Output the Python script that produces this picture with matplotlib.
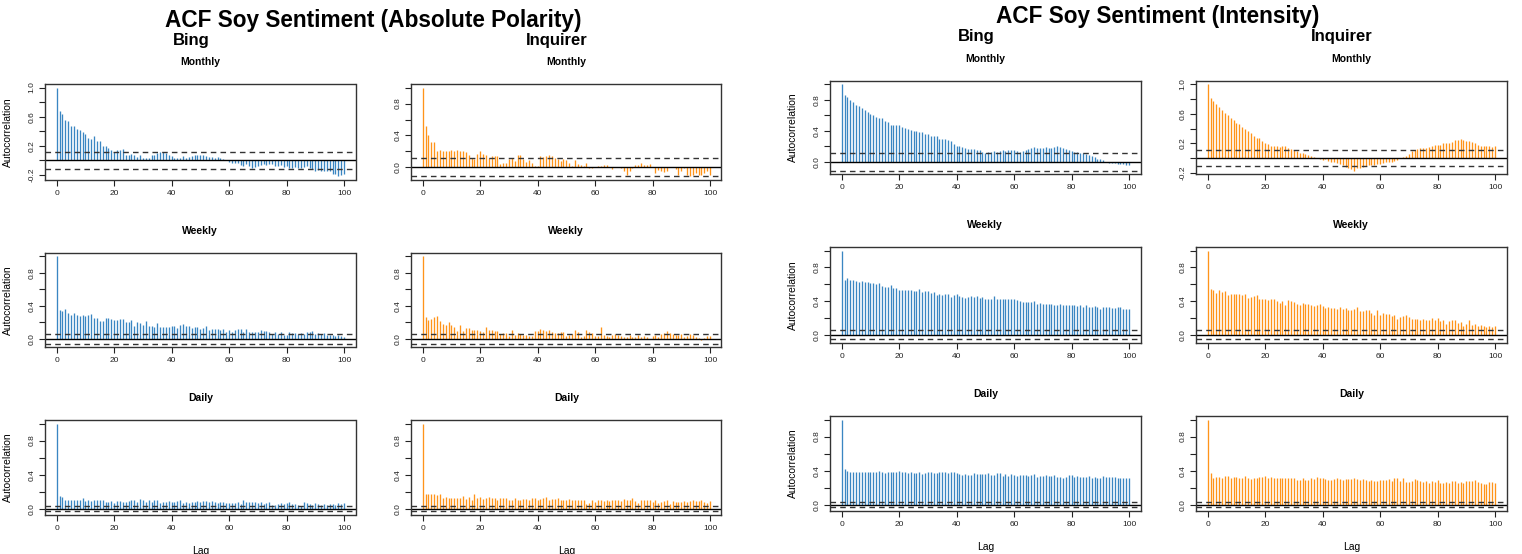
import numpy as np
import matplotlib
matplotlib.use('Agg')
import matplotlib.pyplot as plt

plt.rcParams['font.family'] = ['Liberation Sans', 'DejaVu Sans']

lags = np.arange(0, 101)

# ---- Absolute polarity ----
abs_bing_monthly = [1.00,
    0.68, 0.64, 0.55, 0.54, 0.47, 0.47, 0.43, 0.42, 0.39, 0.36,
    0.31, 0.30, 0.33, 0.27, 0.26, 0.20, 0.20, 0.17, 0.14, 0.11,
    0.14, 0.14, 0.16, 0.08, 0.08, 0.09, 0.08, 0.05, 0.08, 0.04,
    0.04, 0.04, 0.08, 0.08, 0.10, 0.11, 0.11, 0.10, 0.08, 0.06,
    0.04, 0.04, 0.04, 0.06, 0.04, 0.05, 0.06, 0.07, 0.08, 0.08,
    0.07, 0.06, 0.05, 0.05, 0.04, 0.05, 0.03, 0.02, 0.00, -0.02,
    -0.03, -0.04, -0.04, -0.06, -0.07, -0.05, -0.08, -0.10, -0.09, -0.08,
    -0.06, -0.05, -0.06, -0.05, -0.05, -0.07, -0.07, -0.06, -0.09, -0.08,
    -0.10, -0.10, -0.09, -0.10, -0.10, -0.09, -0.07, -0.10, -0.12, -0.14,
    -0.13, -0.15, -0.15, -0.15, -0.15, -0.18, -0.19, -0.22, -0.20, -0.18]
abs_inq_monthly = [1.00,
    0.52, 0.41, 0.32, 0.32, 0.21, 0.22, 0.21, 0.21, 0.20, 0.22,
    0.21, 0.22, 0.20, 0.20, 0.19, 0.16, 0.12, 0.10, 0.17, 0.21,
    0.17, 0.15, 0.12, 0.14, 0.14, 0.14, 0.04, 0.06, 0.06, 0.10,
    0.12, 0.08, 0.15, 0.15, 0.11, 0.07, 0.09, 0.05, 0.02, 0.02,
    0.14, 0.13, 0.14, 0.15, 0.14, 0.12, 0.10, 0.08, 0.11, 0.09,
    0.05, 0.02, 0.09, 0.04, 0.03, 0.02, 0.06, -0.01, -0.01, 0.01,
    0.02, 0.02, 0.03, 0.03, 0.00, -0.02, 0.00, 0.00, -0.01, -0.05,
    -0.09, -0.04, -0.01, 0.03, 0.03, 0.06, 0.03, 0.03, 0.04, 0.01,
    -0.07, -0.03, -0.04, -0.06, -0.05, 0.01, 0.00, -0.02, -0.09, -0.05,
    -0.01, -0.09, -0.11, -0.09, -0.07, -0.10, -0.09, -0.07, -0.05, -0.09]
abs_bing_weekly = [1.00,
    0.35, 0.34, 0.36, 0.31, 0.29, 0.32, 0.29, 0.28, 0.29, 0.28,
    0.29, 0.30, 0.26, 0.25, 0.22, 0.22, 0.26, 0.26, 0.24, 0.23,
    0.23, 0.24, 0.24, 0.21, 0.20, 0.23, 0.16, 0.21, 0.19, 0.17,
    0.22, 0.16, 0.16, 0.14, 0.19, 0.15, 0.14, 0.14, 0.15, 0.16,
    0.16, 0.13, 0.17, 0.18, 0.16, 0.16, 0.13, 0.14, 0.14, 0.12,
    0.13, 0.16, 0.11, 0.12, 0.12, 0.12, 0.11, 0.12, 0.09, 0.11,
    0.09, 0.11, 0.12, 0.12, 0.09, 0.12, 0.08, 0.09, 0.09, 0.08,
    0.11, 0.10, 0.10, 0.08, 0.06, 0.09, 0.06, 0.08, 0.05, 0.05,
    0.09, 0.07, 0.07, 0.06, 0.07, 0.06, 0.09, 0.08, 0.10, 0.06,
    0.07, 0.06, 0.07, 0.05, 0.05, 0.05, 0.04, 0.05, 0.04, 0.03]
abs_inq_weekly = [1.00,
    0.27, 0.23, 0.24, 0.27, 0.28, 0.22, 0.18, 0.17, 0.21, 0.17,
    0.15, 0.10, 0.17, 0.10, 0.13, 0.13, 0.11, 0.11, 0.11, 0.10,
    0.08, 0.14, 0.11, 0.11, 0.10, 0.10, 0.06, 0.07, 0.07, 0.04,
    0.11, 0.05, 0.07, 0.06, 0.05, 0.05, 0.04, 0.04, 0.10, 0.10,
    0.12, 0.11, 0.10, 0.11, 0.08, 0.07, 0.07, 0.09, 0.08, 0.04,
    0.05, 0.06, 0.11, 0.08, 0.03, 0.04, 0.11, 0.09, 0.07, 0.04,
    0.04, 0.14, 0.05, 0.04, 0.03, 0.05, 0.06, 0.05, 0.04, 0.02,
    0.03, 0.05, 0.03, 0.02, 0.05, 0.02, 0.04, 0.03, 0.00, 0.04,
    0.05, 0.03, 0.06, 0.07, 0.10, 0.07, 0.06, 0.05, 0.05, 0.06,
    0.03, 0.04, 0.06, 0.05, 0.02, 0.01, -0.01, 0.01, 0.04, 0.04]
abs_bing_daily = [1.00,
    0.15, 0.14, 0.11, 0.11, 0.11, 0.11, 0.10, 0.11, 0.13, 0.09,
    0.10, 0.09, 0.10, 0.11, 0.10, 0.10, 0.08, 0.08, 0.09, 0.07,
    0.09, 0.09, 0.08, 0.08, 0.09, 0.10, 0.10, 0.08, 0.12, 0.11,
    0.08, 0.10, 0.08, 0.10, 0.10, 0.07, 0.08, 0.08, 0.09, 0.08,
    0.08, 0.09, 0.11, 0.07, 0.08, 0.07, 0.08, 0.08, 0.09, 0.08,
    0.09, 0.09, 0.08, 0.09, 0.08, 0.07, 0.08, 0.08, 0.07, 0.07,
    0.07, 0.07, 0.08, 0.06, 0.10, 0.08, 0.08, 0.08, 0.08, 0.07,
    0.08, 0.06, 0.07, 0.08, 0.05, 0.05, 0.06, 0.07, 0.06, 0.07,
    0.08, 0.06, 0.06, 0.05, 0.04, 0.08, 0.07, 0.06, 0.05, 0.07,
    0.06, 0.05, 0.06, 0.05, 0.06, 0.06, 0.05, 0.07, 0.06, 0.07]
abs_inq_daily = [1.00,
    0.17, 0.17, 0.17, 0.18, 0.16, 0.17, 0.13, 0.14, 0.13, 0.13,
    0.13, 0.13, 0.13, 0.15, 0.12, 0.14, 0.11, 0.17, 0.13, 0.14,
    0.12, 0.13, 0.14, 0.13, 0.13, 0.11, 0.13, 0.13, 0.13, 0.11,
    0.11, 0.13, 0.11, 0.11, 0.12, 0.12, 0.11, 0.13, 0.13, 0.10,
    0.12, 0.13, 0.14, 0.10, 0.12, 0.12, 0.13, 0.10, 0.10, 0.11,
    0.12, 0.11, 0.10, 0.10, 0.10, 0.10, 0.06, 0.07, 0.11, 0.08,
    0.11, 0.10, 0.09, 0.11, 0.09, 0.10, 0.11, 0.10, 0.09, 0.12,
    0.10, 0.10, 0.13, 0.09, 0.07, 0.10, 0.11, 0.10, 0.10, 0.08,
    0.10, 0.07, 0.08, 0.09, 0.10, 0.06, 0.09, 0.08, 0.08, 0.08,
    0.09, 0.08, 0.09, 0.10, 0.09, 0.09, 0.10, 0.08, 0.07, 0.09]

# ---- Intensity ----
int_bing_monthly = [1.00,
    0.87, 0.84, 0.80, 0.77, 0.74, 0.72, 0.69, 0.67, 0.65, 0.62,
    0.60, 0.58, 0.56, 0.56, 0.53, 0.51, 0.48, 0.47, 0.47, 0.47,
    0.45, 0.44, 0.43, 0.41, 0.40, 0.40, 0.39, 0.38, 0.36, 0.36,
    0.34, 0.34, 0.33, 0.30, 0.30, 0.29, 0.28, 0.27, 0.23, 0.21,
    0.20, 0.19, 0.18, 0.17, 0.16, 0.16, 0.15, 0.15, 0.13, 0.12,
    0.13, 0.13, 0.14, 0.13, 0.14, 0.15, 0.14, 0.15, 0.15, 0.15,
    0.14, 0.13, 0.14, 0.15, 0.16, 0.18, 0.19, 0.18, 0.18, 0.18,
    0.19, 0.18, 0.18, 0.19, 0.20, 0.19, 0.18, 0.16, 0.15, 0.14,
    0.13, 0.13, 0.12, 0.12, 0.10, 0.09, 0.07, 0.06, 0.04, 0.03,
    0.02, 0.00, -0.01, -0.02, -0.02, -0.03, -0.03, -0.03, -0.04, -0.04]
int_inq_monthly = [1.00,
    0.82, 0.77, 0.74, 0.70, 0.65, 0.61, 0.58, 0.55, 0.52, 0.47,
    0.46, 0.42, 0.40, 0.37, 0.34, 0.30, 0.27, 0.27, 0.23, 0.21,
    0.19, 0.17, 0.16, 0.16, 0.15, 0.16, 0.16, 0.14, 0.12, 0.11,
    0.09, 0.07, 0.07, 0.05, 0.04, 0.03, 0.02, 0.00, -0.01, -0.02,
    -0.01, -0.04, -0.05, -0.06, -0.07, -0.08, -0.10, -0.12, -0.13, -0.15,
    -0.17, -0.14, -0.13, -0.12, -0.11, -0.10, -0.09, -0.09, -0.08, -0.08,
    -0.07, -0.06, -0.05, -0.05, -0.04, -0.03, 0.00, 0.01, 0.03, 0.06,
    0.10, 0.11, 0.12, 0.14, 0.14, 0.14, 0.15, 0.16, 0.18, 0.18,
    0.18, 0.20, 0.20, 0.20, 0.22, 0.24, 0.24, 0.26, 0.25, 0.23,
    0.23, 0.22, 0.20, 0.18, 0.17, 0.17, 0.16, 0.16, 0.15, 0.16]
int_bing_weekly = [1.00,
    0.65, 0.67, 0.65, 0.65, 0.64, 0.63, 0.64, 0.63, 0.63, 0.61,
    0.61, 0.60, 0.61, 0.58, 0.57, 0.57, 0.59, 0.55, 0.55, 0.53,
    0.53, 0.53, 0.53, 0.53, 0.52, 0.52, 0.54, 0.51, 0.52, 0.52,
    0.50, 0.51, 0.47, 0.48, 0.47, 0.48, 0.48, 0.45, 0.47, 0.48,
    0.46, 0.45, 0.44, 0.45, 0.46, 0.45, 0.46, 0.44, 0.45, 0.43,
    0.42, 0.43, 0.46, 0.43, 0.42, 0.42, 0.43, 0.42, 0.42, 0.42,
    0.41, 0.40, 0.39, 0.39, 0.39, 0.39, 0.40, 0.37, 0.38, 0.37,
    0.37, 0.36, 0.36, 0.35, 0.35, 0.36, 0.35, 0.35, 0.35, 0.35,
    0.35, 0.34, 0.35, 0.33, 0.35, 0.33, 0.33, 0.34, 0.33, 0.31,
    0.33, 0.33, 0.33, 0.32, 0.32, 0.33, 0.33, 0.31, 0.31, 0.31]
int_inq_weekly = [1.00,
    0.54, 0.53, 0.50, 0.53, 0.51, 0.52, 0.47, 0.48, 0.48, 0.49,
    0.48, 0.47, 0.49, 0.44, 0.45, 0.46, 0.47, 0.43, 0.43, 0.42,
    0.41, 0.43, 0.43, 0.40, 0.38, 0.40, 0.35, 0.41, 0.40, 0.39,
    0.37, 0.35, 0.38, 0.37, 0.36, 0.35, 0.34, 0.35, 0.36, 0.34,
    0.32, 0.33, 0.32, 0.32, 0.31, 0.33, 0.31, 0.32, 0.29, 0.30,
    0.31, 0.33, 0.28, 0.28, 0.29, 0.30, 0.26, 0.24, 0.29, 0.24,
    0.26, 0.25, 0.25, 0.22, 0.24, 0.19, 0.21, 0.22, 0.23, 0.21,
    0.19, 0.19, 0.19, 0.17, 0.19, 0.18, 0.18, 0.20, 0.18, 0.20,
    0.16, 0.17, 0.13, 0.16, 0.17, 0.17, 0.14, 0.15, 0.11, 0.13,
    0.17, 0.12, 0.13, 0.11, 0.12, 0.11, 0.09, 0.11, 0.09, 0.10]
int_bing_daily = [1.00,
    0.42, 0.40, 0.39, 0.39, 0.39, 0.38, 0.39, 0.38, 0.38, 0.39,
    0.38, 0.39, 0.40, 0.38, 0.37, 0.38, 0.39, 0.38, 0.38, 0.40,
    0.39, 0.39, 0.37, 0.38, 0.37, 0.37, 0.38, 0.36, 0.37, 0.38,
    0.38, 0.37, 0.37, 0.38, 0.38, 0.38, 0.37, 0.38, 0.38, 0.37,
    0.36, 0.35, 0.36, 0.35, 0.35, 0.37, 0.36, 0.36, 0.36, 0.36,
    0.37, 0.35, 0.35, 0.37, 0.37, 0.34, 0.36, 0.34, 0.36, 0.35,
    0.34, 0.35, 0.35, 0.35, 0.34, 0.35, 0.36, 0.33, 0.34, 0.34,
    0.35, 0.34, 0.34, 0.35, 0.33, 0.33, 0.32, 0.33, 0.35, 0.35,
    0.33, 0.34, 0.33, 0.33, 0.33, 0.34, 0.32, 0.33, 0.32, 0.32,
    0.34, 0.33, 0.33, 0.33, 0.33, 0.32, 0.32, 0.32, 0.32, 0.31]
int_inq_daily = [1.00,
    0.37, 0.32, 0.33, 0.33, 0.32, 0.34, 0.34, 0.32, 0.33, 0.33,
    0.31, 0.32, 0.34, 0.32, 0.30, 0.32, 0.31, 0.33, 0.33, 0.34,
    0.32, 0.33, 0.31, 0.32, 0.32, 0.32, 0.31, 0.31, 0.31, 0.31,
    0.29, 0.29, 0.31, 0.29, 0.29, 0.31, 0.30, 0.33, 0.31, 0.31,
    0.30, 0.29, 0.29, 0.30, 0.31, 0.30, 0.29, 0.30, 0.30, 0.30,
    0.31, 0.30, 0.29, 0.30, 0.29, 0.28, 0.29, 0.28, 0.28, 0.29,
    0.29, 0.29, 0.30, 0.28, 0.31, 0.32, 0.28, 0.31, 0.27, 0.27,
    0.28, 0.30, 0.29, 0.28, 0.27, 0.28, 0.26, 0.28, 0.27, 0.29,
    0.26, 0.26, 0.27, 0.26, 0.28, 0.28, 0.26, 0.27, 0.26, 0.28,
    0.28, 0.28, 0.29, 0.27, 0.26, 0.24, 0.24, 0.27, 0.27, 0.26]

# confidence bounds (approx 1.96/sqrt(n)) per frequency
ci_monthly = 0.113
ci_weekly = 0.055
ci_daily = 0.03

freqs = ['Monthly', 'Weekly', 'Daily']
sources = ['Bing', 'Inquirer']
colors = {'Bing': '#3a86c2', 'Inquirer': '#ff9419'}

groups = [
    {'title': 'ACF Soy Sentiment (Absolute Polarity)',
     'data': {'Bing': [abs_bing_monthly, abs_bing_weekly, abs_bing_daily],
              'Inquirer': [abs_inq_monthly, abs_inq_weekly, abs_inq_daily]},
     'cols': [45.2, 411.2], 'rows': [(84, 180), (253, 347), (420, 515)],
     'title_xy': (373, 20), 'head_y': 41, 'head_x': [191, 557]},
    {'title': 'ACF Soy Sentiment (Intensity)',
     'data': {'Bing': [int_bing_monthly, int_bing_weekly, int_bing_daily],
              'Inquirer': [int_inq_monthly, int_inq_weekly, int_inq_daily]},
     'cols': [830.2, 1196.2], 'rows': [(81, 174), (247, 343), (416, 511)],
     'title_xy': (1158, 17), 'head_y': 37, 'head_x': [976, 1342]},
]
cis = [ci_monthly, ci_weekly, ci_daily]

W, H = 1522, 554
fig = plt.figure(figsize=(W / 100, H / 100), dpi=100)
axw = 310.3

for g in groups:
    fig.text(g['title_xy'][0] / W, 1 - g['title_xy'][1] / H, g['title'],
             ha='center', va='center', fontsize=16.3, fontweight='bold')
    for j, src in enumerate(sources):
        fig.text(g['head_x'][j] / W, 1 - g['head_y'] / H, src,
                 ha='center', va='center', fontsize=12, fontweight='bold')
        for i, fq in enumerate(freqs):
            left = g['cols'][j]
            top, bot = g['rows'][i]
            ax = fig.add_axes([left / W, 1 - bot / H, axw / W, (bot - top) / H])
            vals = np.array(g['data'][src][i])
            ci = cis[i]
            ax.vlines(lags, 0, vals, color=colors[src], lw=0.95)
            ax.axhline(0, color='black', lw=1.0)
            ax.axhline(ci, color='#333333', lw=1.0, ls=(0, (4, 3)))
            ax.axhline(-ci, color='#333333', lw=1.0, ls=(0, (4, 3)))
            lo = min(vals.min(), -ci)
            hi = max(vals.max(), ci)
            pad = 0.04 * (hi - lo)
            ax.set_ylim(lo - pad, hi + pad)
            ax.set_xlim(-4, 104)
            k0 = int(np.ceil((lo - pad) / 0.2 - 1e-9))
            k1 = int(np.floor((hi + pad) / 0.2 + 1e-9))
            yt = [k * 0.2 for k in range(k0, k1 + 1)]
            ax.set_yticks(yt)
            ax.set_yticklabels(['%.1f' % (k * 0.2 + 0.0) if (k - k0) % 2 == 0 else ''
                                for k in range(k0, k1 + 1)],
                               rotation=90, va='center')
            ax.set_xticks([0, 20, 40, 60, 80, 100])
            ax.tick_params(direction='out', length=4, width=0.8, labelsize=6,
                           pad=3, colors='#222222')
            for s in ax.spines.values():
                s.set_color('#333333')
                s.set_linewidth(1.0)
            ax.set_title(fq, fontsize=7.5, fontweight='bold', pad=14)
            if j == 0:
                ax.set_ylabel('Autocorrelation', fontsize=7.5)
                ax.yaxis.set_label_coords(-0.104, 0.5)
            if i == 2:
                ax.set_xlabel('Lag', fontsize=7.5)
                ax.xaxis.set_label_coords(0.5, -0.33)

fig.savefig('out.png', dpi=100)
